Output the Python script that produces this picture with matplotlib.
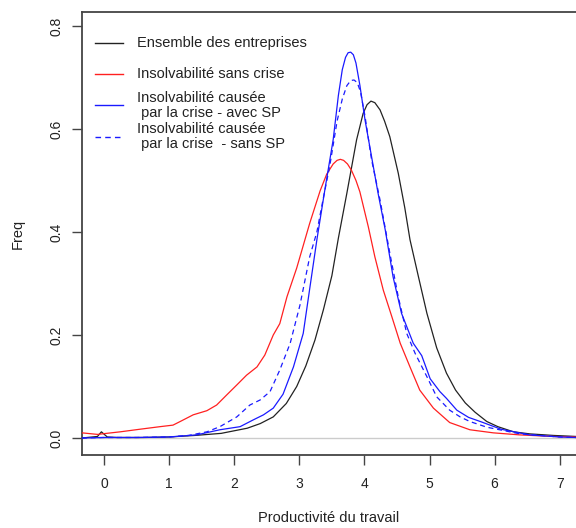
import matplotlib
matplotlib.use("Agg")
import matplotlib.pyplot as plt
from matplotlib.lines import Line2D

plt.rcParams['font.family'] = ['Liberation Sans', 'DejaVu Sans']

# density curves (x = productivité, y = freq)
x_ensemble = [-0.34, -0.1, -0.04, 0.05, 0.2, 0.6, 1.0, 1.4, 1.8, 2.2, 2.4, 2.6, 2.8, 2.96,
              3.1, 3.24, 3.37, 3.5, 3.6, 3.73, 3.88, 3.98, 4.04, 4.1, 4.16, 4.24, 4.31,
              4.39, 4.52, 4.62, 4.7, 4.83, 4.96, 5.11, 5.26, 5.4, 5.55, 5.7, 5.88, 6.05,
              6.29, 6.54, 6.9, 7.25]
y_ensemble = [0.0, 0.003, 0.012, 0.002, 0.001, 0.001, 0.002, 0.005, 0.009, 0.019, 0.028,
              0.041, 0.067, 0.100, 0.14, 0.19, 0.249, 0.315, 0.388, 0.475, 0.579, 0.630,
              0.647, 0.654, 0.651, 0.637, 0.615, 0.585, 0.514, 0.447, 0.385, 0.313, 0.242,
              0.175, 0.126, 0.093, 0.068, 0.05, 0.032, 0.022, 0.012, 0.008, 0.005, 0.003]

x_sans_crise = [-0.34, -0.1, 0.25, 0.55, 0.86, 1.06, 1.17, 1.37, 1.58, 1.73, 1.88, 2.04,
                2.19, 2.35, 2.47, 2.6, 2.7, 2.81, 2.96, 3.16, 3.32, 3.42, 3.52, 3.58, 3.63,
                3.68, 3.74, 3.8, 3.87, 3.93, 4.06, 4.16, 4.29, 4.42, 4.55, 4.7, 4.85, 5.06,
                5.31, 5.62, 5.98, 6.39, 6.9, 7.25]
y_sans_crise = [0.010, 0.007, 0.012, 0.017, 0.022, 0.025, 0.032, 0.045, 0.053, 0.064, 0.083,
                0.103, 0.122, 0.138, 0.161, 0.2, 0.222, 0.274, 0.33, 0.417, 0.48, 0.512,
                0.532, 0.539, 0.541, 0.539, 0.532, 0.52, 0.500, 0.478, 0.41, 0.352, 0.287,
                0.236, 0.184, 0.138, 0.093, 0.058, 0.03, 0.016, 0.01, 0.006, 0.003, 0.002]

x_avec_sp = [-0.34, 0.0, 0.5, 1.0, 1.42, 1.78, 2.09, 2.29, 2.45, 2.6, 2.75, 2.91, 3.06,
             3.16, 3.27, 3.39, 3.52, 3.6, 3.66, 3.71, 3.75, 3.79, 3.83, 3.87, 3.93, 4.01,
             4.11, 4.21, 4.32, 4.44, 4.57, 4.75, 4.88, 5.01, 5.16, 5.26, 5.42, 5.6, 5.78,
             6.1, 6.54, 7.0, 7.25]
y_avec_sp = [0.0, 0.001, 0.001, 0.002, 0.006, 0.016, 0.022, 0.035, 0.045, 0.058, 0.085,
             0.138, 0.203, 0.29, 0.385, 0.48, 0.579, 0.665, 0.715, 0.739, 0.748, 0.749,
             0.744, 0.728, 0.685, 0.617, 0.546, 0.475, 0.404, 0.313, 0.242, 0.184, 0.16,
             0.115, 0.09, 0.077, 0.054, 0.04, 0.032, 0.017, 0.006, 0.002, 0.001]

x_sans_sp = [-0.34, 0.0, 0.5, 1.0, 1.3, 1.58, 1.78, 2.04, 2.24, 2.4, 2.55, 2.7, 2.86, 3.01,
             3.16, 3.27, 3.36, 3.47, 3.58, 3.66, 3.73, 3.79, 3.84, 3.89, 3.94, 4.01, 4.11,
             4.24, 4.39, 4.52, 4.65, 4.78, 4.96, 5.11, 5.31, 5.47, 5.62, 5.88, 6.39, 7.0,
             7.25]
y_sans_sp = [0.0, 0.001, 0.001, 0.002, 0.005, 0.012, 0.022, 0.041, 0.064, 0.074, 0.09,
             0.132, 0.184, 0.258, 0.352, 0.40, 0.46, 0.53, 0.615, 0.658, 0.684, 0.694,
             0.695, 0.690, 0.672, 0.624, 0.54, 0.462, 0.359, 0.274, 0.203, 0.164, 0.119,
             0.08, 0.054, 0.041, 0.032, 0.021, 0.008, 0.002, 0.001]

labels = ["Ensemble des entreprises",
          "Insolvabilité sans crise",
          "Insolvabilité causée\n par la crise - avec SP",
          "Insolvabilité causée\n par la crise  - sans SP"]
x_ticks = [0, 1, 2, 3, 4, 5, 6, 7]
y_ticks = [0.0, 0.2, 0.4, 0.6, 0.8]

fig = plt.figure(figsize=(5.76, 5.28), dpi=100)
ax = fig.add_axes([82 / 576, 1 - 455 / 528, 1 - 82 / 576, (455 - 12) / 528])

ax.axhline(0, color='#cccccc', lw=1.0, zorder=1)
ax.plot(x_ensemble, y_ensemble, color='#222222', lw=0.9, zorder=3)
ax.plot(x_sans_crise, y_sans_crise, color='#ff2020', lw=0.9, zorder=3)
ax.plot(x_avec_sp, y_avec_sp, color='#1a1aff', lw=0.9, zorder=3)
ax.plot(x_sans_sp, y_sans_sp, color='#1a1aff', lw=0.9, ls=(0, (4, 3)), zorder=3)

ax.set_xlim(-0.338, 7.25)
ax.set_ylim(-0.033, 0.827)
ax.set_xticks(x_ticks)
ax.set_yticks(y_ticks)
ax.set_yticklabels([f"{v:.1f}" for v in y_ticks], rotation=90, va='center')
ax.tick_params(axis='both', direction='out', length=7, width=1.0, color='#444444',
               labelsize=10, labelcolor='#222222')
ax.tick_params(axis='x', pad=9)
ax.tick_params(axis='y', pad=6)

for side in ['left', 'top', 'bottom']:
    ax.spines[side].set_color('#444444')
    ax.spines[side].set_linewidth(1.3)
ax.spines['right'].set_visible(False)

ax.set_xlabel("Productivité du travail", fontsize=10.5, color='#222222', labelpad=14)
ax.set_ylabel("Freq", fontsize=10.5, color='#222222', labelpad=18)

# hand-placed legend, no frame (R style)
leg_colors = ['#222222', '#ff2020', '#1a1aff', '#1a1aff']
leg_styles = ['-', '-', '-', (0, (4, 3))]
leg_rows = [0.930, 0.860, 0.789, 0.718]
for lab, c, s, yy in zip(labels, leg_colors, leg_styles, leg_rows):
    ax.add_line(Line2D([0.026, 0.083], [yy, yy], transform=ax.transAxes,
                       color=c, ls=s, lw=1.0))
    ax.text(0.111, yy, lab, transform=ax.transAxes, fontsize=10.5, va='center',
            ha='left', color='#222222', linespacing=1.1)

fig.savefig("out.png", dpi=100)
